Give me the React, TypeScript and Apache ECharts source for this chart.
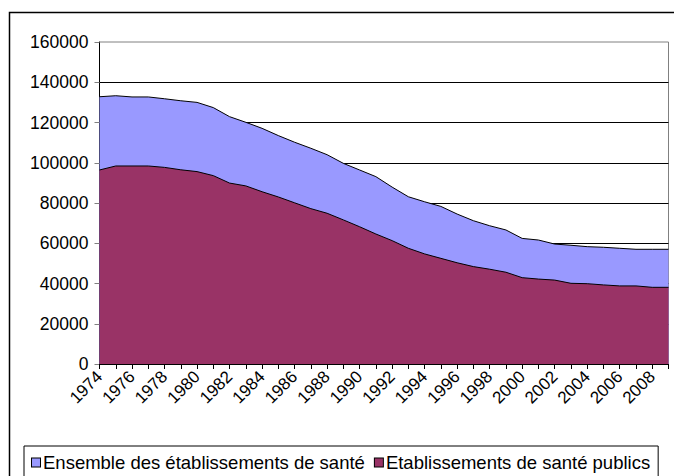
import React, { useEffect, useRef } from "react";
import * as echarts from "echarts";

const years: string[] = [
  "1974","1975","1976","1977","1978","1979","1980","1981","1982","1983",
  "1984","1985","1986","1987","1988","1989","1990","1991","1992","1993",
  "1994","1995","1996","1997","1998","1999","2000","2001","2002","2003",
  "2004","2005","2006","2007","2008","2009",
];

const ensemble: number[] = [
  132800, 133300, 132700, 132700, 131800, 130800, 130000, 127400, 122900, 120100,
  117100, 113500, 110200, 107200, 104000, 99700, 96400, 93100, 87900, 83100,
  80600, 78300, 74500, 71200, 68700, 66600, 62400, 61600, 59600, 59000,
  58300, 58000, 57500, 57000, 57000, 57000,
];

const publics: number[] = [
  96400, 98400, 98400, 98400, 97700, 96500, 95600, 93600, 89900, 88500,
  85600, 83000, 80100, 77200, 74900, 71600, 68200, 64600, 61300, 57500,
  54700, 52500, 50300, 48400, 47100, 45600, 42900, 42200, 41700, 40100,
  39900, 39300, 38800, 38800, 38100, 38100,
];

const seriesNames: string[] = [
  "Ensemble des établissements de santé",
  "Etablissements de santé publics",
];

const seriesColors: string[] = ["#9999FF", "#993366"];

const FONT = "'Liberation Sans', Arial, sans-serif";

export default function App() {
  const ref = useRef<HTMLDivElement>(null);
  useEffect(() => {
    if (!ref.current) return;
    const chart = echarts.init(ref.current, undefined, { renderer: "svg" });
    chart.setOption({
      animation: false,
      backgroundColor: "#ffffff",
      textStyle: { fontFamily: FONT, color: "#000" },
      graphic: [
        {
          type: "rect",
          shape: { x: 9.5, y: 12.5, width: 700, height: 500 },
          style: { fill: "none", stroke: "#000", lineWidth: 1.5 },
          z: 100,
        },
      ],
      grid: {
        left: 99.5,
        right: 5.5,
        top: 42,
        bottom: 112,
        show: true,
        borderColor: "#808080",
        borderWidth: 1,
        backgroundColor: "transparent",
        containLabel: false,
      },
      legend: {
        left: 24,
        top: 446,
        width: 642,
        data: seriesNames,
        icon: "rect",
        itemWidth: 0,
        itemHeight: 0,
        itemGap: 5,
        padding: [7, 8, 20, 3],
        borderColor: "#000",
        borderWidth: 1,
        formatter: (name: string) => {
          const i = seriesNames.indexOf(name);
          return `{b${i}|}{t|${name}}`;
        },
        textStyle: {
          fontFamily: FONT,
          fontSize: 18.5,
          color: "#000",
          rich: {
            b0: {
              width: 8,
              height: 8,
              backgroundColor: seriesColors[0],
              borderColor: "#000",
              borderWidth: 1,
              verticalAlign: "middle",
            },
            b1: {
              width: 8,
              height: 8,
              backgroundColor: seriesColors[1],
              borderColor: "#000",
              borderWidth: 1,
              verticalAlign: "middle",
            },
            t: {
              fontFamily: FONT,
              fontSize: 18.5,
              color: "#000",
              padding: [0, 0, 0, 3],
            },
          },
        },
      },
      xAxis: {
        type: "category",
        data: years,
        boundaryGap: false,
        axisLine: { lineStyle: { color: "#000", width: 1 } },
        axisTick: { show: true, interval: 0, length: 5, lineStyle: { color: "#000" } },
        axisLabel: {
          interval: 1,
          rotate: 45,
          margin: 10,
          fontFamily: FONT,
          fontSize: 17,
          color: "#000",
        },
        splitLine: { show: false },
      },
      yAxis: {
        type: "value",
        min: 0,
        max: 160000,
        interval: 20000,
        axisLine: { show: true, lineStyle: { color: "#000", width: 1 } },
        axisTick: { show: true, length: 5, lineStyle: { color: "#808080" } },
        axisLabel: {
          margin: 11,
          fontFamily: FONT,
          fontSize: 17.5,
          color: "#000",
          formatter: (v: number) => String(v),
        },
        splitLine: { show: true, showMaxLine: false, lineStyle: { color: "#000", width: 1 } },
      },
      series: [
        {
          name: seriesNames[0],
          type: "line",
          data: ensemble,
          symbol: "none",
          lineStyle: { color: "#000", width: 1 },
          itemStyle: { color: seriesColors[0] },
          areaStyle: { color: seriesColors[0], opacity: 1 },
          z: 2,
        },
        {
          name: seriesNames[1],
          type: "line",
          data: publics,
          symbol: "none",
          lineStyle: { color: "#000", width: 1 },
          itemStyle: { color: seriesColors[1] },
          areaStyle: { color: seriesColors[1], opacity: 1 },
          z: 3,
        },
      ],
    });
    return () => chart.dispose();
  }, []);
  return (
    <div
      ref={ref}
      style={{ position: "fixed", left: 0, top: 0, width: 674, height: 476 }}
    />
  );
}
